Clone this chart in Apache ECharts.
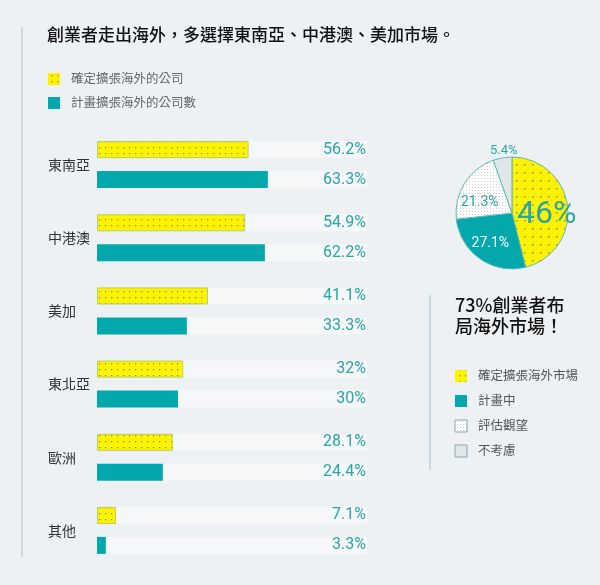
<!DOCTYPE html>
<html>
<head>
<meta charset="utf-8">
<script src="https://cdn.jsdelivr.net/npm/echarts@6/dist/echarts.min.js"></script>
<style>
html,body{margin:0;padding:0;background:#edf1f4;}
#c{width:600px;height:585px;}
</style>
</head>
<body>
<div id="c"></div>
<script>
const categories = ['東南亞', '中港澳', '美加', '東北亞', '歐洲', '其他'];
const confirmed = [56.2, 54.9, 41.1, 32, 28.1, 7.1];
const planned = [63.3, 62.2, 33.3, 30, 24.4, 3.3];
const pieNames = ['確定擴張海外市場', '計畫中', '評估觀望', '不考慮'];
const pieValues = [46, 27.1, 21.3, 5.4];
const titleText = '創業者走出海外，多選擇東南亞、中港澳、美加市場。';
const legendTop = ['確定擴張海外的公司', '計畫擴張海外的公司數'];
const sideTitle = ['73%創業者布', '局海外市場！'];

const TEAL = '#02a8ab';
const TEXT_TEAL = '#2ba6a6';
const YELLOW = '#fff200';

function pattern(size, bg, dot, dotSize) {
  const c = document.createElement('canvas');
  c.width = size; c.height = size;
  const g = c.getContext('2d');
  g.fillStyle = bg; g.fillRect(0, 0, size, size);
  g.fillStyle = dot;
  g.fillRect(Math.floor(size / 2), Math.floor(size / 2), dotSize, dotSize);
  return { image: c, repeat: 'repeat' };
}
const yellowDots = pattern(6, YELLOW, '#7f9d3c', 1.3);
const yellowDotsPie = pattern(8, YELLOW, '#7f9d3c', 1.5);
const whiteDots = pattern(3, '#ffffff', '#c9d2d6', 1);

const chart = echarts.init(document.getElementById('c'));
const font = '"Noto Sans CJK TC", "Noto Sans", sans-serif';
const numFont = 'Roboto, "Noto Sans", sans-serif';

const restConfirmed = confirmed.map(v => 100 - v);
const restPlanned = planned.map(v => 100 - v);
const trackColor = '#f5f7f8';

const pieColors = [yellowDotsPie, TEAL, whiteDots, '#dfe7ea'];
const pieLabelStyle = [
  { fontSize: 32, color: TEXT_TEAL },
  { fontSize: 14, color: '#ffffff' },
  { fontSize: 14, color: TEXT_TEAL },
  { fontSize: 13, color: TEXT_TEAL }
];
// nudges of each label from its default inside position
const pieLabelNudge = [[4, 6], [-4, 5], [-6, 6], [-3, -32]];

chart.setOption({
  backgroundColor: '#edf1f4',
  animation: false,
  grid: { left: 97, width: 270, top: 128, height: 439 },
  xAxis: { type: 'value', min: 0, max: 100, show: false },
  yAxis: {
    type: 'category', data: categories, inverse: true,
    axisLine: { show: false }, axisTick: { show: false }, splitLine: { show: false },
    axisLabel: { align: 'left', margin: 49, fontSize: 14, color: '#333', fontFamily: font }
  },
  series: [
    { type: 'bar', stack: 'a', data: confirmed, barWidth: 17, barGap: '76%',
      itemStyle: { color: yellowDots, borderColor: '#b7cf5c', borderWidth: 1 }, silent: true },
    { type: 'bar', stack: 'a', data: restConfirmed, barWidth: 17,
      itemStyle: { color: trackColor },
      label: { show: true, position: 'insideRight', distance: 1, fontSize: 16, color: TEXT_TEAL, fontFamily: numFont,
        formatter: p => confirmed[p.dataIndex] + '%' } },
    { type: 'bar', stack: 'b', data: planned, barWidth: 17,
      itemStyle: { color: TEAL } },
    { type: 'bar', stack: 'b', data: restPlanned, barWidth: 17,
      itemStyle: { color: trackColor },
      label: { show: true, position: 'insideRight', distance: 1, fontSize: 16, color: TEXT_TEAL, fontFamily: numFont,
        formatter: p => planned[p.dataIndex] + '%' } },
    { type: 'pie', center: [512, 213], radius: 56, startAngle: 90, clockwise: true,
      labelLine: { show: false },
      labelLayout: p => ({ dx: pieLabelNudge[p.dataIndex][0], dy: pieLabelNudge[p.dataIndex][1] }),
      data: pieValues.map((v, i) => ({
        name: pieNames[i], value: v,
        itemStyle: { color: pieColors[i], borderColor: '#5fb9b3', borderWidth: 1 },
        label: Object.assign({ show: true, position: 'inside', fontFamily: numFont, formatter: v + '%' }, pieLabelStyle[i])
      }))
    }
  ],
  graphic: [
    { type: 'line', shape: { x1: 22, y1: 27, x2: 22, y2: 557 }, style: { stroke: '#c3d3dc', lineWidth: 1.5 } },
    { type: 'line', shape: { x1: 430, y1: 295, x2: 430, y2: 470 }, style: { stroke: '#bfd0d8', lineWidth: 1.5 } },
    { type: 'text', left: 47, top: 26, style: { text: titleText, font: '500 17px ' + font, fill: '#111' } },
    { type: 'rect', shape: { x: 48, y: 73, width: 12, height: 12 }, style: { fill: yellowDots } },
    { type: 'text', left: 71, top: 72, style: { text: legendTop[0], font: '12.5px ' + font, fill: '#666' } },
    { type: 'rect', shape: { x: 48, y: 97, width: 12, height: 12 }, style: { fill: TEAL } },
    { type: 'text', left: 71, top: 96, style: { text: legendTop[1], font: '12.5px ' + font, fill: '#666' } },
    { type: 'text', left: 455, top: 296, style: { text: sideTitle[0], font: '500 18px ' + font, fill: '#111' } },
    { type: 'text', left: 455, top: 317, style: { text: sideTitle[1], font: '500 18px ' + font, fill: '#111' } },
    ...pieNames.map((n, i) => ({
      type: 'rect', shape: { x: 455, y: 370 + i * 25, width: 12, height: 12 },
      style: { fill: i === 0 ? yellowDots : pieColors[i], stroke: i >= 2 ? '#8fa3ad' : null, lineWidth: 1 }
    })),
    ...pieNames.map((n, i) => ({
      type: 'text', left: 478, top: 369 + i * 25, style: { text: n, font: '12.5px ' + font, fill: '#555' }
    }))
  ]
});
</script>
</body>
</html>
